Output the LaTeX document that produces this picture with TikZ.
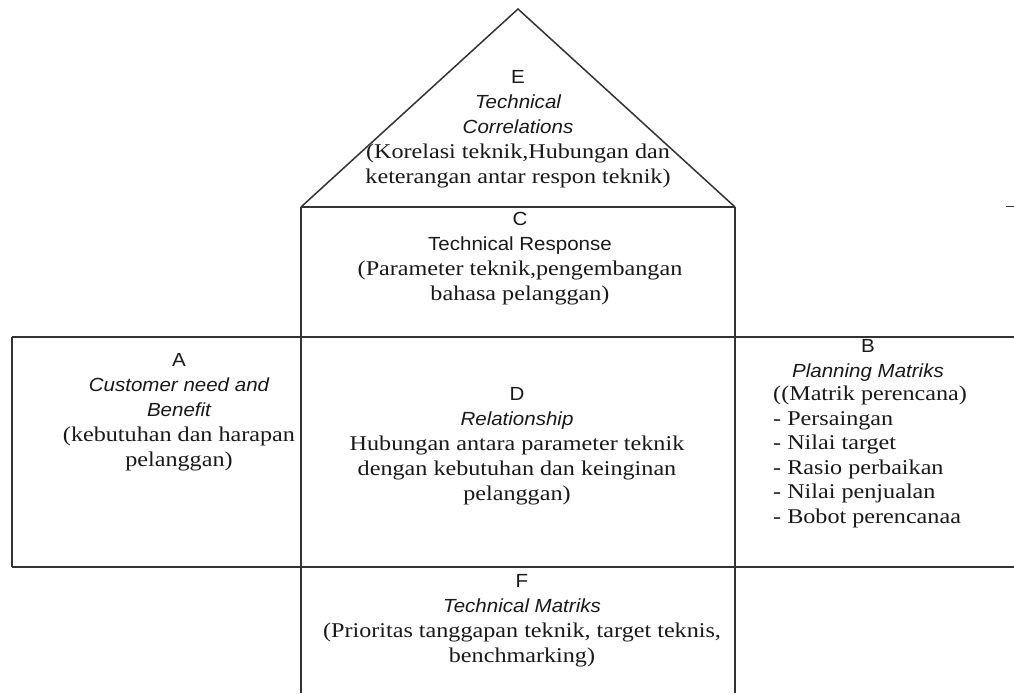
\documentclass[tikz,border=0pt]{standalone}
\usepackage{fontspec}
\setmainfont{Liberation Serif}[FakeStretch=1.15]
\newfontfamily\arialf{Liberation Sans}[FakeStretch=1.08]
\newcommand{\sn}[1]{{\arialf\fontsize{19}{25}\selectfont #1}}
\newcommand{\si}[1]{{\arialf\itshape\fontsize{19}{25}\selectfont #1}}
\begin{document}
\begin{tikzpicture}[x=1pt,y=-1pt,
  frame/.style={draw=black!80,line width=1.5pt},
  txt/.style={align=center,inner sep=0pt,font=\fontsize{21}{25}\selectfont,text=black!90},
  txtl/.style={align=left,inner sep=0pt,font=\fontsize{21}{24.5}\selectfont,text=black!90}]
\useasboundingbox (0,0) rectangle (1014,693);
\fill[white] (0,0) rectangle (1014,693);
% corner coordinates
\coordinate (apex) at (518,9);
\coordinate (rl) at (301,207);
\coordinate (rr) at (735,207);
\coordinate (bl) at (301,693);
\coordinate (br) at (735,693);
\coordinate (ml) at (12,337);
\coordinate (mr) at (1014,337);
\coordinate (nl) at (12,567);
\coordinate (nr) at (1014,567);
\coordinate (tk1) at (1006,206);
\coordinate (tk2) at (1014,206);
% frame
\draw[frame,line join=miter] (rl) -- (apex) -- (rr);
\draw[frame] (rl) -- (rr);
\draw[frame] (rl) -- (bl);
\draw[frame] (rr) -- (br);
\draw[frame] (ml) -- (mr);
\draw[frame] (nl) -- (nr);
\draw[frame] (ml) -- (nl);
\draw[frame,line width=1pt] (tk1) -- (tk2);
% texts
\node[txt] (E) at (518,129) {\sn{E}\\ \si{Technical}\\ \si{Correlations}\\
  (Korelasi teknik,Hubungan dan\\ keterangan antar respon teknik)};
\node[txt] (C) at (520,259) {\sn{C}\\ \sn{Technical Response}\\
  (Parameter teknik,pengembangan\\ bahasa pelanggan)};
\node[txt] (D) at (517,446) {\sn{D}\\ \si{Relationship}\\
  Hubungan antara parameter teknik\\ dengan kebutuhan dan keinginan\\ pelanggan)};
\node[txt] (A) at (179,412) {\sn{A}\\ \si{Customer need and}\\ \si{Benefit}\\
  (kebutuhan dan harapan\\ pelanggan)};
\node[txt] (B) at (868,360) {\sn{B}\\ \si{Planning Matriks}};
\node[txtl,anchor=west] (Bl) at (773,457) {((Matrik perencana)\\ - Persaingan\\ - Nilai target\\
  - Rasio perbaikan\\ - Nilai penjualan\\ - Bobot perencanaa};
\node[txt] (F) at (522,621) {\sn{F}\\ \si{Technical Matriks}\\
  (Prioritas tanggapan teknik, target teknis,\\ benchmarking)};
\end{tikzpicture}
\end{document}
